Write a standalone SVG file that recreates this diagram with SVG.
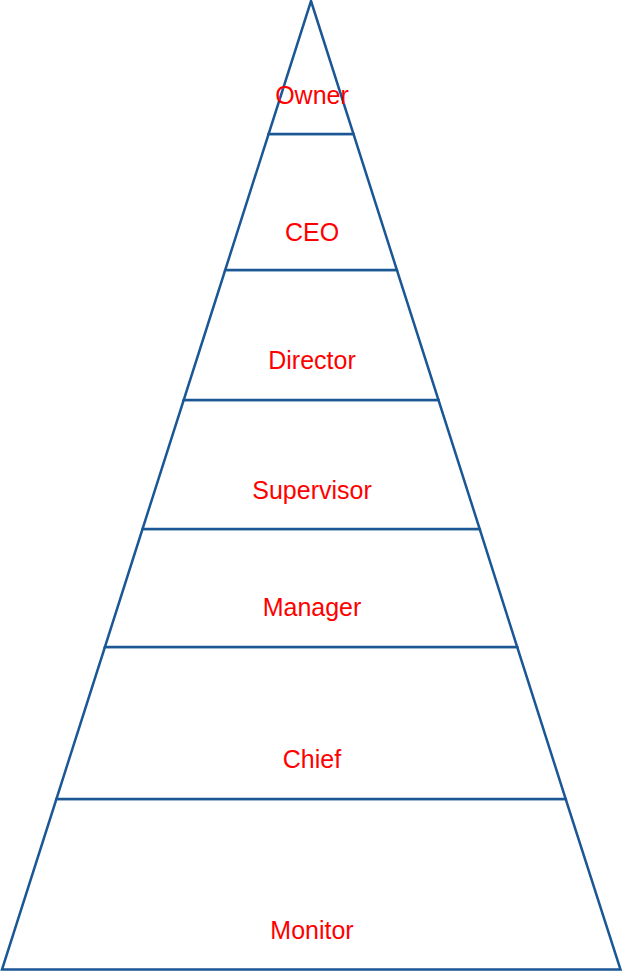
<svg xmlns="http://www.w3.org/2000/svg" width="623" height="972" viewBox="0 0 623 972">
<style>
.lvl{fill:#ffffff;stroke:#1b5795;stroke-width:2.5;stroke-linejoin:miter}
.lbl{font-family:"Liberation Sans",Arial,sans-serif;font-size:25px;fill:#ff0000;text-anchor:middle}
</style>
<rect width="623" height="972" fill="#ffffff"/>
<g id="monitor"><polygon class="lvl" points="56.4,799 565.7,799 620.5,969.5 2,969.5"/><text class="lbl" x="312" y="939">Monitor</text></g>
<g id="chief"><polygon class="lvl" points="104.9,647 517.2,647 565.7,799 56.4,799"/><text class="lbl" x="312" y="768">Chief</text></g>
<g id="manager"><polygon class="lvl" points="142.5,529 479.7,529 517.2,647 104.9,647"/><text class="lbl" x="312" y="616">Manager</text></g>
<g id="supervisor"><polygon class="lvl" points="183.7,400 438.5,400 479.7,529 142.5,529"/><text class="lbl" x="312" y="499">Supervisor</text></g>
<g id="director"><polygon class="lvl" points="225.2,270 396.9,270 438.5,400 183.7,400"/><text class="lbl" x="312" y="369">Director</text></g>
<g id="ceo"><polygon class="lvl" points="268.6,134 353.5,134 396.9,270 225.2,270"/><text class="lbl" x="312" y="241">CEO</text></g>
<g id="owner"><polygon class="lvl" points="311,1 353.5,134 268.6,134"/><text class="lbl" x="312" y="104">Owner</text></g>
<g id="connectors"></g>
</svg>
